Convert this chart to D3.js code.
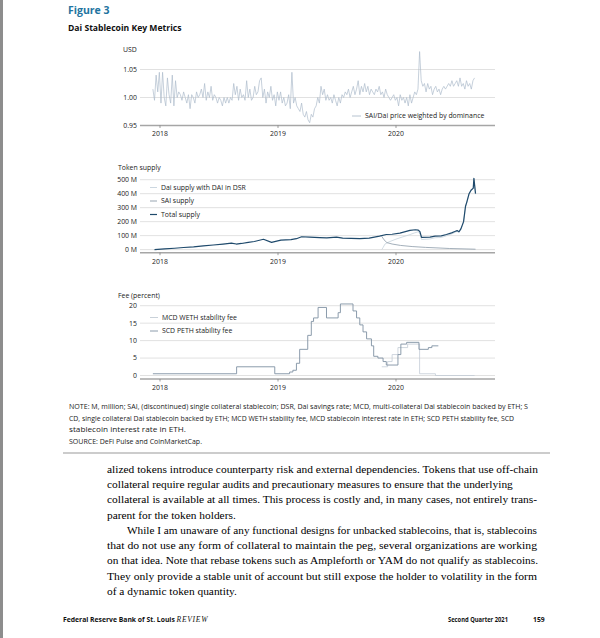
<!DOCTYPE html>
<html>
<head>
<meta charset="utf-8">
<script src="https://cdn.jsdelivr.net/npm/d3@7"></script>
<style>
  body { margin: 0; background: #fff; }
  svg { display: block; }
</style>
</head>
<body>
<script>
// ---- data ----
const yearTicks = ['2018-01-01', '2019-01-01', '2020-01-01']
const yearLabels = ['2018', '2019', '2020']

// SAI/Dai price, one reading every 5 days from 10 Dec 2017
const priceStart = '2017-12-10'
const priceStepDays = 5
const priceValues = [
  1.015, 0.995, 1.04, 1.01, 1.045,
  0.99, 1.045, 1.00, 0.985, 1.035, 1.005,
  0.99, 1.04, 0.985, 1.03, 1.00, 1.01,
  1.005, 0.995, 1.01, 1.00, 0.99, 1.005,
  0.98, 1.005, 1.00, 0.99, 1.01, 1.00,
  1.005, 1.015, 1.00, 1.025, 0.995, 1.01,
  1.00, 1.02, 0.995, 1.005, 1.00, 0.99,
  1.00, 0.995, 0.985, 1.00, 0.99, 1.00,
  0.99, 1.00, 0.995, 1.025, 1.005, 1.02,
  0.995, 1.015, 1.00, 1.005, 0.995, 1.03,
  1.00, 1.015, 0.995, 1.00, 1.02, 1.005, 1.01,
  1.03, 1.035, 1.00, 1.015, 0.99, 1.01,
  1.00, 1.02, 0.995, 1.005, 0.985, 1.01,
  0.995, 1.01, 0.99, 1.00, 0.985, 0.99,
  1.005, 0.98, 1.045, 0.99, 1.00, 0.985,
  0.98, 0.975, 0.99, 0.97, 0.965, 0.975,
  0.96, 0.955, 0.97, 0.965, 0.98, 0.985,
  1.00, 0.99, 1.02, 1.005, 1.015, 0.995,
  1.005, 0.995, 1.00, 0.99, 1.005, 0.995,
  0.985, 1.00, 0.99, 1.005, 1.00, 1.01,
  1.005, 1.015, 1.00, 1.01, 1.02, 1.005,
  1.015, 1.03, 1.005, 1.02, 1.01, 1.025,
  1.01, 1.02, 1.005, 1.015, 1.01, 1.005, 1.015,
  1.01, 1.02, 1.005, 1.01, 1.00, 1.015,
  1.005, 1.00, 0.995, 1.00, 1.005, 0.995,
  1.00, 0.985, 1.005, 0.995, 1.00, 0.99,
  1.00, 0.985, 1.005, 0.99, 1.00, 1.01,
  1.005, 1.015, 1.082, 1.03, 1.02, 1.025,
  1.01, 1.025, 1.015, 1.02, 1.005, 1.015,
  1.02, 1.01, 1.015, 1.005, 1.015, 1.02,
  1.015, 1.02, 1.025, 1.02, 1.03, 1.02,
  1.025, 1.03, 1.02, 1.035, 1.02, 1.025,
  1.015, 1.03, 1.02, 1.025, 1.015, 1.03, 1.035
]
const priceTicks = [0.95, 1.00, 1.05]

// token supply, millions
const totalSupply = [
  ['2017-12-15', 0.5], ['2018-01-15', 5], ['2018-02-15', 10], ['2018-03-15', 15],
  ['2018-04-15', 20], ['2018-05-15', 27], ['2018-06-15', 33], ['2018-07-15', 40],
  ['2018-08-10', 47], ['2018-08-25', 40], ['2018-09-10', 44], ['2018-10-01', 52],
  ['2018-10-20', 58], ['2018-11-17', 74], ['2018-12-12', 52], ['2019-01-10', 68],
  ['2019-02-10', 72], ['2019-02-27', 78], ['2019-03-15', 92], ['2019-04-09', 90],
  ['2019-05-10', 86], ['2019-06-01', 84], ['2019-07-01', 90], ['2019-07-20', 82],
  ['2019-08-15', 80], ['2019-09-11', 79], ['2019-10-10', 82], ['2019-11-11', 96],
  ['2019-12-02', 108], ['2019-12-20', 110], ['2020-01-13', 118], ['2020-02-13', 138],
  ['2020-03-01', 142], ['2020-03-10', 140], ['2020-03-15', 128], ['2020-03-20', 87],
  ['2020-04-15', 90], ['2020-05-01', 97], ['2020-05-20', 98], ['2020-06-05', 108],
  ['2020-06-21', 120], ['2020-07-01', 130], ['2020-07-08', 136], ['2020-07-14', 128],
  ['2020-07-20', 150], ['2020-07-28', 200], ['2020-08-03', 310], ['2020-08-07', 340],
  ['2020-08-14', 400], ['2020-08-20', 425], ['2020-08-27', 440], ['2020-08-29', 510],
  ['2020-09-03', 400]
]
const saiSupply = [
  ['2019-11-18', 95], ['2019-11-25', 70], ['2019-12-04', 50], ['2019-12-20', 40],
  ['2020-01-15', 30], ['2020-02-20', 22], ['2020-04-01', 16], ['2020-05-10', 12],
  ['2020-06-15', 8], ['2020-07-20', 6], ['2020-09-03', 3]
]
const daiSupply = [
  ['2019-11-18', 0], ['2019-11-22', 15], ['2019-11-28', 40], ['2019-12-10', 55],
  ['2020-01-01', 75], ['2020-01-20', 90], ['2020-02-10', 105], ['2020-02-28', 120],
  ['2020-03-10', 128], ['2020-03-15', 112], ['2020-03-20', 72], ['2020-04-15', 76],
  ['2020-05-01', 85], ['2020-05-20', 87], ['2020-06-05', 99], ['2020-06-21', 112],
  ['2020-07-01', 123], ['2020-07-08', 130], ['2020-07-14', 122], ['2020-07-20', 144],
  ['2020-07-28', 194], ['2020-08-03', 304], ['2020-08-07', 334], ['2020-08-14', 395],
  ['2020-08-20', 420], ['2020-08-27', 436], ['2020-08-29', 506], ['2020-09-03', 397]
]
const supplyTicks = [0, 100, 200, 300, 400, 500]

// stability fees, percent (step series)
const scdFee = [
  ['2017-12-10', 0.5], ['2018-08-26', 2.5], ['2018-12-22', 0.5], ['2019-02-06', 1],
  ['2019-02-16', 1.5], ['2019-02-27', 3.5], ['2019-03-09', 7.5], ['2019-04-03', 11.5],
  ['2019-04-14', 15.5], ['2019-04-21', 16.5], ['2019-05-05', 19.5], ['2019-05-31', 16.5],
  ['2019-07-06', 18], ['2019-07-13', 20.5], ['2019-08-21', 18.5], ['2019-09-01', 16.5],
  ['2019-09-11', 14.5], ['2019-09-21', 12.5], ['2019-10-02', 10.5], ['2019-10-17', 8.5],
  ['2019-10-24', 5.5], ['2019-11-06', 5], ['2019-11-22', 4], ['2019-12-02', 3],
  ['2020-01-07', 6], ['2020-01-16', 9], ['2020-02-03', 9.5], ['2020-03-12', 7.5],
  ['2020-04-10', 8], ['2020-04-21', 8.5], ['2020-05-11', 8.5]
]
const mcdFee = [
  ['2019-11-18', 2.5], ['2019-12-06', 4], ['2019-12-20', 6], ['2020-01-07', 8],
  ['2020-02-06', 9], ['2020-03-14', 0.5], ['2020-05-02', 0], ['2020-08-31', 0]
]
const feeTicks = [0, 5, 10, 15, 20]

const noteLines = [
  'NOTE: M, million; SAI, (discontinued) single collateral stablecoin; DSR, Dai savings rate; MCD, multi-collateral Dai stablecoin backed by ETH; S',
  'CD, single collateral Dai stablecoin backed by ETH; MCD WETH stability fee, MCD stablecoin interest rate in ETH; SCD PETH stability fee, SCD',
  'stablecoin interest rate in ETH.',
  'SOURCE: DeFi Pulse and CoinMarketCap.'
]
const bodyLines = [
  'alized tokens introduce counterparty risk and external dependencies. Tokens that use off-chain',
  'collateral require regular audits and precautionary measures to ensure that the underlying',
  'collateral is available at all times. This process is costly and, in many cases, not entirely trans-',
  'parent for the token holders.',
  'While I am unaware of any functional designs for unbacked stablecoins, that is, stablecoins',
  'that do not use any form of collateral to maintain the peg, several organizations are working',
  'on that idea. Note that rebase tokens such as Ampleforth or YAM do not qualify as stablecoins.',
  'They only provide a stable unit of account but still expose the holder to volatility in the form',
  'of a dynamic token quantity.'
]

// ---- layout ----
const W = 600, H = 638
const sans = '"Open Sans", "Noto Sans", sans-serif'
const serif = '"Liberation Serif", "DejaVu Serif", serif'
const chartFont = 6.9
const parse = d3.timeParse('%Y-%m-%d')

const svg = d3.select('body').append('svg')
    .attr('width', W)
    .attr('height', H)

svg.append('rect').attr('width', W).attr('height', H).attr('fill', '#fff')
svg.append('rect').attr('width', 3).attr('height', H).attr('fill', '#8d8d8d')

svg.append('text')
    .attr('x', 68).attr('y', 14)
    .attr('font-family', sans).attr('font-weight', 700).attr('font-size', 10.5)
    .attr('fill', '#2274a0')
    .text('Figure 3')

svg.append('text')
    .attr('x', 68).attr('y', 30.5)
    .attr('font-family', sans).attr('font-weight', 700).attr('font-size', 8.6)
    .attr('fill', '#111')
    .text('Dai Stablecoin Key Metrics')

const xLeft = 140, xRight = 495
const x = d3.scaleTime()
    .domain([parse('2018-01-01'), parse('2020-01-01')])
    .range([160, 396])

function panel(opts) {
  const g = svg.append('g')
  const y = opts.y

  g.append('text')
      .attr('x', opts.titleX).attr('y', opts.titleY)
      .attr('dy', '0.35em')
      .attr('font-family', sans).attr('font-size', chartFont).attr('fill', '#222')
      .text(opts.title)

  g.selectAll('line.grid')
      .data(opts.ticks.filter(t => t > y.domain()[0]))
      .enter().append('line')
      .attr('class', 'grid')
      .attr('x1', xLeft).attr('x2', xRight)
      .attr('y1', d => y(d)).attr('y2', d => y(d))
      .attr('stroke', '#d4d4d4').attr('stroke-width', 0.7)

  g.selectAll('text.tick')
      .data(opts.ticks)
      .enter().append('text')
      .attr('class', 'tick')
      .attr('x', 137).attr('y', d => y(d))
      .attr('dy', '0.35em')
      .attr('text-anchor', 'end')
      .attr('font-family', sans).attr('font-size', chartFont).attr('fill', '#222')
      .text(opts.format)

  const axisY = y.range()[0]
  g.append('line')
      .attr('x1', xLeft).attr('x2', xRight)
      .attr('y1', axisY).attr('y2', axisY)
      .attr('stroke', '#a6a6a6').attr('stroke-width', 1.4)

  g.selectAll('line.yt')
      .data(yearTicks)
      .enter().append('line')
      .attr('class', 'yt')
      .attr('x1', d => x(parse(d))).attr('x2', d => x(parse(d)))
      .attr('y1', axisY).attr('y2', axisY + 2.5)
      .attr('stroke', '#777').attr('stroke-width', 0.7)

  g.selectAll('text.yl')
      .data(yearLabels)
      .enter().append('text')
      .attr('class', 'yl')
      .attr('x', (d, i) => x(parse(yearTicks[i])))
      .attr('y', axisY + 8.5)
      .attr('dy', '0.35em')
      .attr('text-anchor', 'middle')
      .attr('font-family', sans).attr('font-size', chartFont).attr('fill', '#222')
      .text(d => d)

  opts.series.forEach(s => {
    const line = d3.line()
        .x(d => x(d[0]))
        .y(d => y(d[1]))
    if (s.step) line.curve(d3.curveStepAfter)
    g.append('path')
        .datum(s.data)
        .attr('d', line)
        .attr('fill', 'none')
        .attr('stroke', s.color)
        .attr('stroke-width', s.width)
        .attr('stroke-linejoin', 'round')
  })

  opts.legend.forEach((s, i) => {
    const ly = opts.legendY[i]
    g.append('line')
        .attr('x1', opts.legendX).attr('x2', opts.legendX + opts.swatch)
        .attr('y1', ly).attr('y2', ly)
        .attr('stroke', s.color).attr('stroke-width', Math.max(s.width, 0.9))
    g.append('text')
        .attr('x', opts.legendX + opts.swatch + 4).attr('y', ly)
        .attr('dy', '0.35em')
        .attr('font-family', sans).attr('font-size', chartFont).attr('fill', '#222')
        .text(s.name)
  })
}

// panel 1: price
const priceData = priceValues.map((v, i) => [d3.timeDay.offset(parse(priceStart), i * priceStepDays), v])
const pricePanel = {
  name: 'SAI/Dai price weighted by dominance', data: priceData, color: '#aebccb', width: 0.7
}
panel({
  title: 'USD', titleX: 123, titleY: 50,
  y: d3.scaleLinear().domain([0.95, 1.05]).range([125.5, 69.5]),
  ticks: priceTicks, format: d3.format('.2f'),
  series: [pricePanel],
  legend: [pricePanel], legendX: 352, legendY: [116], swatch: 9
})

// panel 2: supply
const toPts = arr => arr.map(d => [parse(d[0]), d[1]])
const daiSeries = { name: 'Dai supply with DAI in DSR', data: toPts(daiSupply), color: '#c6d3dc', width: 0.8 }
const saiSeries = { name: 'SAI supply', data: toPts(saiSupply), color: '#8c9ba8', width: 0.8 }
const totalSeries = { name: 'Total supply', data: toPts(totalSupply), color: '#1f4a6c', width: 1.2 }
panel({
  title: 'Token supply', titleX: 118, titleY: 168,
  y: d3.scaleLinear().domain([-22, 500]).range([252.7, 179.7]),
  ticks: supplyTicks, format: d => d + ' M',
  series: [daiSeries, saiSeries, totalSeries],
  legend: [daiSeries, saiSeries, totalSeries], legendX: 150, legendY: [187.5, 201, 214.5], swatch: 7
})

// panel 3: fees
const mcdSeries = { name: 'MCD WETH stability fee', data: toPts(mcdFee), color: '#c3ccd5', width: 0.8, step: true }
const scdSeries = { name: 'SCD PETH stability fee', data: toPts(scdFee), color: '#7f91a3', width: 0.9, step: true }
panel({
  title: 'Fee (percent)', titleX: 118, titleY: 296,
  y: d3.scaleLinear().domain([-1, 20]).range([379, 305.7]),
  ticks: feeTicks, format: d => d,
  series: [mcdSeries, scdSeries],
  legend: [mcdSeries, scdSeries], legendX: 150, legendY: [317.5, 331], swatch: 8
})

// note and source
const noteWidths = [459, 445, 117, 133]
const noteY = [407, 418.5, 430, 441.5]
svg.selectAll('text.note')
    .data(noteLines)
    .enter().append('text')
    .attr('class', 'note')
    .attr('x', 69).attr('y', (d, i) => noteY[i])
    .attr('dy', '0.35em')
    .attr('font-family', sans).attr('font-size', 6.4).attr('fill', '#1a1a1a')
    .attr('textLength', (d, i) => noteWidths[i])
    .attr('lengthAdjust', 'spacingAndGlyphs')
    .text(d => d)

svg.append('line')
    .attr('x1', 63).attr('x2', 550)
    .attr('y1', 453).attr('y2', 453)
    .attr('stroke', '#9a9a9a').attr('stroke-width', 1.2)

// body text: full lines are fitted to the measure, short lines keep natural width
const bodyX = [107, 107, 107, 107, 127, 107, 107, 107, 107]
const bodyWidths = [431, null, 430, null, 410, 430, 431, 430, null]
svg.selectAll('text.body')
    .data(bodyLines)
    .enter().append('text')
    .attr('class', 'body')
    .attr('x', (d, i) => bodyX[i])
    .attr('y', (d, i) => 469 + i * 15.25)
    .attr('dy', '0.35em')
    .attr('font-family', serif).attr('font-size', 11.4).attr('fill', '#000')
    .attr('textLength', (d, i) => bodyWidths[i])
    .attr('lengthAdjust', 'spacingAndGlyphs')
    .text(d => d)

// footer
const foot = svg.append('text')
    .attr('x', 63).attr('y', 620)
    .attr('dy', '0.35em')
    .attr('font-family', sans).attr('font-weight', 700).attr('font-size', 6.8).attr('fill', '#111')
foot.append('tspan').text('Federal Reserve Bank of St. Louis ')
foot.append('tspan')
    .attr('font-family', serif).attr('font-style', 'italic').attr('font-weight', 400)
    .attr('font-size', 7.6).attr('letter-spacing', 0.7)
    .text('REVIEW')

svg.append('text')
    .attr('x', 448).attr('y', 620)
    .attr('dy', '0.35em')
    .attr('font-family', sans).attr('font-weight', 700).attr('font-size', 6.8).attr('fill', '#111')
    .attr('textLength', 60).attr('lengthAdjust', 'spacingAndGlyphs')
    .text('Second Quarter 2021')

svg.append('text')
    .attr('x', 533).attr('y', 620)
    .attr('dy', '0.35em')
    .attr('font-family', sans).attr('font-weight', 700).attr('font-size', 6.8).attr('fill', '#111')
    .text('159')
</script>
</body>
</html>
